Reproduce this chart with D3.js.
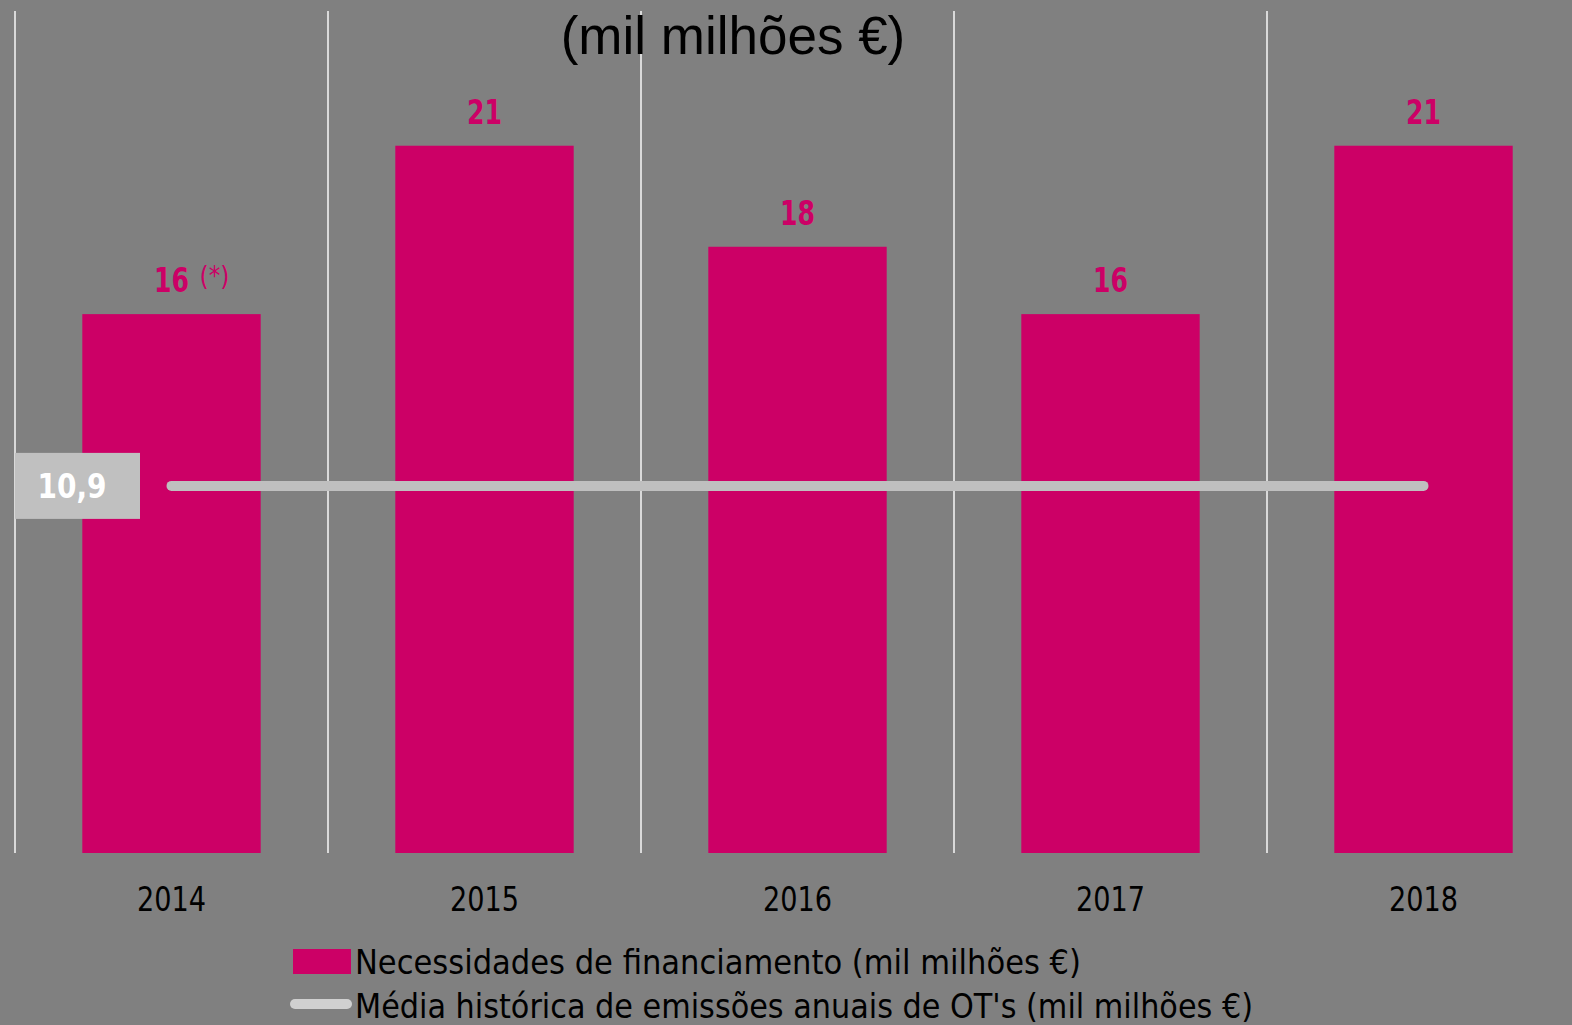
<!DOCTYPE html>
<html>
<head>
<meta charset="utf-8">
<script src="https://cdn.jsdelivr.net/npm/d3@7"></script>
<style>
  body { margin: 0; background: #808080; }
  text { font-family: "DejaVu Sans Condensed", "DejaVu Sans", sans-serif; }
</style>
</head>
<body>
<script>
var years = ["2014", "2015", "2016", "2017", "2018"];
var needs = [16, 21, 18, 16, 21];           // Necessidades de financiamento
var needLabels = ["16", "21", "18", "16", "21"];
var average = 10.9;                          // média histórica
var averageLabel = "10,9";

var outerWidth = 1572, outerHeight = 1025;
var margin = { top: 11, right: -8, bottom: 172, left: 15 };
var width = outerWidth - margin.left - margin.right,
  height = outerHeight - margin.top - margin.bottom;

var padIn = 0.43, padOut = 0.215;

var x = d3.scaleBand()
  .domain(years)
  .range([0, width])
  .paddingInner(padIn)
  .paddingOuter(padOut);

var y = d3.scaleLinear()
  .domain([0, 25])
  .range([height, 0]);

var svg = d3.select("body").append("svg")
  .attr("width", outerWidth)
  .attr("height", outerHeight);

svg.append("rect")
  .attr("width", outerWidth).attr("height", outerHeight)
  .attr("fill", "#808080");

var g = svg.append("g")
  .attr("transform", "translate(" + margin.left + "," + margin.top + ")");

// vertical separators between categories
var step = x.step();
var bounds = years.map(function (d) { return x(d) - step * padOut; });
g.selectAll(".sep")
  .data(bounds)
  .enter().append("line")
  .attr("class", "sep")
  .attr("x1", function (d) { return d; })
  .attr("x2", function (d) { return d; })
  .attr("y1", y(25))
  .attr("y2", y(0))
  .attr("stroke", "#d9d9d9")
  .attr("stroke-width", 2);

// title
svg.append("text")
  .attr("x", 733)
  .attr("y", 54)
  .attr("text-anchor", "middle")
  .style("font-family", "'Liberation Sans', Arial, sans-serif")
  .style("font-size", "53px")
  .attr("fill", "#000")
  .text("(mil milhões €)");

// bars
g.selectAll(".bar")
  .data(needs)
  .enter().append("rect")
  .attr("class", "bar")
  .attr("x", function (d, i) { return x(years[i]); })
  .attr("y", function (d) { return y(d); })
  .attr("width", x.bandwidth())
  .attr("height", function (d) { return y(0) - y(d); })
  .attr("fill", "#cc0066");

// bar value labels
g.selectAll(".val")
  .data(needs)
  .enter().append("text")
  .attr("class", "val")
  .attr("x", function (d, i) { return x(years[i]) + x.bandwidth() / 2; })
  .attr("y", function (d) { return y(d) - 22; })
  .attr("text-anchor", "middle")
  .attr("fill", "#cc0066")
  .style("font-size", "34px")
  .style("font-weight", "bold")
  .attr("textLength", 35)
  .attr("lengthAdjust", "spacingAndGlyphs")
  .text(function (d, i) { return needLabels[i]; });

// footnote marker on 2014
g.append("text")
  .attr("x", x(years[0]) + x.bandwidth() / 2 + 28)
  .attr("y", y(needs[0]) - 29)
  .attr("fill", "#cc0066")
  .style("font-size", "26px")
  .text("(*)");

// average line
var line = d3.line()
  .x(function (d) { return x(d) + x.bandwidth() / 2; })
  .y(function () { return y(average); });

g.append("path")
  .datum([years[0], years[years.length - 1]])
  .attr("d", line)
  .attr("fill", "none")
  .attr("stroke", "#bfbfbf")
  .attr("stroke-width", 10)
  .attr("stroke-linecap", "round");

// average label box
g.append("rect")
  .attr("x", 0)
  .attr("y", y(average) - 33)
  .attr("width", 125)
  .attr("height", 66)
  .attr("fill", "#c0c0c0");

g.append("text")
  .attr("x", 57)
  .attr("y", y(average) + 12)
  .attr("text-anchor", "middle")
  .attr("fill", "#fff")
  .style("font-size", "34px")
  .style("font-weight", "bold")
  .attr("textLength", 69)
  .attr("lengthAdjust", "spacingAndGlyphs")
  .text(averageLabel);

// x axis labels
var xAxis = d3.axisBottom(x).tickSize(0).tickPadding(34);
var ax = g.append("g")
  .attr("transform", "translate(0," + height + ")")
  .call(xAxis);
ax.select(".domain").remove();
ax.selectAll("text")
  .attr("fill", "#000")
  .style("font-size", "34px")
  .style("font-family", "'DejaVu Sans Condensed', 'DejaVu Sans', sans-serif")
  .attr("textLength", 69)
  .attr("lengthAdjust", "spacingAndGlyphs");

// legend
var legend = svg.append("g");
legend.append("rect")
  .attr("x", 293).attr("y", 949)
  .attr("width", 58).attr("height", 25)
  .attr("fill", "#cc0066");
legend.append("text")
  .attr("x", 355).attr("y", 974)
  .attr("fill", "#000")
  .style("font-size", "34px")
  .attr("textLength", 726)
  .attr("lengthAdjust", "spacingAndGlyphs")
  .text("Necessidades de financiamento (mil milhões €)");

legend.append("line")
  .attr("x1", 295).attr("x2", 347)
  .attr("y1", 1004).attr("y2", 1004)
  .attr("stroke", "#d0d0d0")
  .attr("stroke-width", 10)
  .attr("stroke-linecap", "round");
legend.append("text")
  .attr("x", 355).attr("y", 1018)
  .attr("fill", "#000")
  .style("font-size", "34px")
  .attr("textLength", 898)
  .attr("lengthAdjust", "spacingAndGlyphs")
  .text("Média histórica de emissões anuais de OT's (mil milhões €)");
</script>
</body>
</html>
